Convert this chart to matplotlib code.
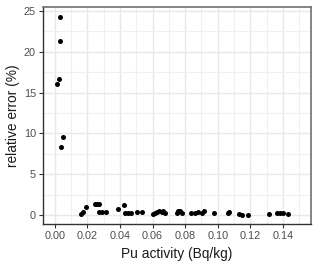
import matplotlib
matplotlib.use("Agg")
import matplotlib.pyplot as plt
from matplotlib import ticker

plt.rcParams['font.family'] = ['Liberation Sans', 'DejaVu Sans']

# Pu activity (Bq/kg) and relative error (%)
pu_activity = [
    0.0014, 0.0026, 0.0031, 0.0033, 0.0035, 0.0049,
    0.0163, 0.0172, 0.0190, 0.0246, 0.0258, 0.0268, 0.0270, 0.0290, 0.0312,
    0.0390, 0.0425, 0.0432, 0.0450, 0.0470, 0.0505, 0.0535,
    0.0600, 0.0612, 0.0625, 0.0640, 0.0655, 0.0665, 0.0675,
    0.0750, 0.0758, 0.0768, 0.0778,
    0.0835, 0.0858, 0.0880, 0.0905, 0.0915, 0.0975,
    0.1060, 0.1068, 0.1128, 0.1148, 0.1185,
    0.1315, 0.1362, 0.1382, 0.1398, 0.1430,
]
rel_error = [
    16.1, 16.7, 24.2, 21.3, 8.3, 9.6,
    0.10, 0.35, 0.95, 1.35, 1.35, 1.30, 0.35, 0.40, 0.35,
    0.75, 1.20, 0.30, 0.20, 0.25, 0.35, 0.35,
    0.15, 0.30, 0.40, 0.50, 0.35, 0.45, 0.30,
    0.20, 0.45, 0.55, 0.30,
    0.20, 0.25, 0.35, 0.30, 0.45, 0.20,
    0.25, 0.40, 0.10, 0.05, 0.05,
    0.12, 0.25, 0.25, 0.20, 0.12,
]

fig = plt.figure(figsize=(3.2, 2.68), dpi=100)
ax = fig.add_axes([0.134, 0.164, 0.839, 0.809])

ax.scatter(pu_activity, rel_error, s=13, color='black', linewidths=0, zorder=3)

ax.set_xlim(-0.0074, 0.1575)
ax.set_ylim(-1.1, 25.45)
ax.xaxis.set_major_locator(ticker.MultipleLocator(0.02))
ax.xaxis.set_minor_locator(ticker.MultipleLocator(0.01))
ax.yaxis.set_major_locator(ticker.MultipleLocator(5))
ax.yaxis.set_minor_locator(ticker.MultipleLocator(2.5))
ax.xaxis.set_major_formatter(ticker.FormatStrFormatter('%.2f'))

ax.grid(which='major', color='#e8e8e8', linewidth=1.0)
ax.grid(which='minor', color='#f0f0f0', linewidth=0.8)
ax.set_axisbelow(True)

for side in ['left', 'bottom']:
    ax.spines[side].set_color('#333333')
    ax.spines[side].set_linewidth(1.0)
for side in ['top', 'right']:
    ax.spines[side].set_color('#707070')
    ax.spines[side].set_linewidth(1.2)

ax.tick_params(which='major', length=3, width=0.8, color='#333333',
               labelsize=7.8, labelcolor='#4d4d4d', pad=2)
ax.tick_params(which='minor', length=0)

ax.set_xlabel('Pu activity (Bq/kg)', fontsize=9.9, color='#1a1a1a', labelpad=4)
ax.set_ylabel('relative error (%)', fontsize=9.9, color='#1a1a1a', labelpad=3)

fig.savefig('out.png', dpi=100)
